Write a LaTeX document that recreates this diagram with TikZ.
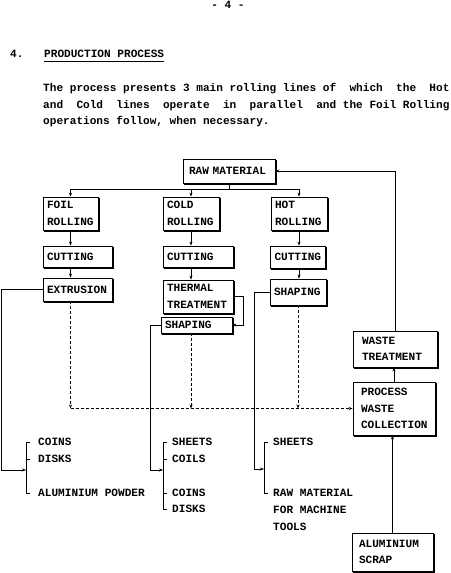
\documentclass[tikz,border=0pt]{standalone}
\usepackage{fontspec}
\setmonofont{Liberation Mono}
\usetikzlibrary{shadows,arrows.meta}
\newcommand\dtf{\fontsize{11.1}{17}\selectfont\ttfamily\bfseries}
\newcommand\dtr{\fontsize{11.1}{16.5}\selectfont\ttfamily\bfseries}
\tikzset{
  box/.style={draw, line width=0.8pt, fill=white, font=\dtf, align=left,
    inner xsep=4pt, inner ysep=0pt,
    copy shadow={shadow xshift=1.3pt, shadow yshift=-1.3pt}},
  lbl/.style={font=\dtf, anchor=west, inner sep=0pt},
  ptxt/.style={font=\dtf, anchor=base west, inner sep=0pt},
  conn/.style={line width=0.8pt},
  arr/.style={conn, -{Stealth[length=4pt,width=3pt]}},
  dsh/.style={line width=0.8pt, dash pattern=on 3pt off 2pt, -{Stealth[length=4pt,width=3pt]}},
}
\begin{document}
\begin{tikzpicture}[x=1pt, y=-1pt]
\useasboundingbox (0,0) rectangle (450,573);
\fill[white] (0,0) rectangle (450,573);

% header and paragraph
\node[font=\dtf, anchor=base, inner sep=0pt] (pg) at (228,8) {- 4 -};
\node[ptxt] (sec) at (10,57.5) {4.};
\node[ptxt] (title) at (44,57.5) {PRODUCTION PROCESS};
\draw[line width=0.6pt] ([yshift=-3pt]title.south west) -- ([yshift=-3pt]title.south east);
\node[ptxt] (p1) at (43,91.5) {The process presents 3 main rolling lines of~ which~ the~ Hot};
\node[ptxt] (p2) at (43,108) {and~ Cold~ lines~ operate~ in~ parallel~ and the Foil Rolling};
\node[ptxt] (p3) at (43,124.5) {operations follow, when necessary.};

% boxes
\node[box, inner xsep=6pt, minimum width=92pt, minimum height=24pt, text width=80pt] (raw) at (229,171) {RAW MATERIAL};
\node[box, minimum width=55pt, minimum height=33pt, text width=47pt] (foil) at (70.5,213.5) {FOIL\\ROLLING};
\node[box, minimum width=56pt, minimum height=33pt, text width=48pt] (cold) at (191,213.5) {COLD\\ROLLING};
\node[box, minimum width=56pt, minimum height=33pt, text width=48pt] (hot) at (299,213.5) {HOT\\ROLLING};
\node[box, minimum width=69pt, minimum height=21pt, text width=61pt] (cut1) at (77.5,256.5) {CUTTING};
\node[box, minimum width=70pt, minimum height=21pt, text width=62pt] (cut2) at (198,256.5) {CUTTING};
\node[box, minimum width=55pt, minimum height=22pt, text width=47pt] (cut3) at (298,257) {CUTTING};
\node[box, minimum width=69pt, minimum height=23pt, text width=61pt] (extr) at (77.5,289.5) {EXTRUSION};
\node[box, minimum width=70pt, minimum height=33pt, text width=62pt] (therm) at (198,296.5) {THERMAL\\TREATMENT};
\node[box, minimum width=71pt, minimum height=16pt, text width=63pt] (shap2) at (196.5,325) {SHAPING};
\node[box, minimum width=56pt, minimum height=26pt, text width=48pt] (shap3) at (298,292) {SHAPING};
\node[box, font=\dtr, inner xsep=9pt, minimum width=84pt, minimum height=36pt, text width=66pt] (wt) at (395,349) {WASTE\\TREATMENT};
\node[box, font=\dtr, inner xsep=8pt, minimum width=82pt, minimum height=53pt, text width=66pt] (pwc) at (394,408.5) {PROCESS\\WASTE\\COLLECTION};
\node[box, font=\dtr, inner xsep=7pt, minimum width=81pt, minimum height=38pt, text width=67pt] (scrap) at (392.5,552) {ALUMINIUM\\SCRAP};

% raw material distribution
\coordinate (bus) at (229,189);
\draw[conn] (raw.south) -- (bus);
\draw[conn] (bus -| foil.north) -- (bus -| hot.north);
\draw[arr] (bus -| foil.north) -- (foil.north);
\draw[arr] (bus -| cold.north) -- (cold.north);
\draw[arr] (bus -| hot.north) -- (hot.north);

% columns
\draw[arr] (foil.south) -- (foil.south |- cut1.north);
\draw[arr] (foil.south |- cut1.south) -- (foil.south |- extr.north);
\draw[arr] (cold.south) -- (cold.south |- cut2.north);
\draw[arr] (cold.south |- cut2.south) -- (cold.south |- therm.north);
\draw[arr] (hot.south) -- (hot.south |- cut3.north);
\draw[arr] (hot.south |- cut3.south) -- (hot.south |- shap3.north);
\draw[arr] (therm.east) -- ++(10,0) |- (shap2.east);

% product outputs
\coordinate (b1) at (26,470);
\coordinate (b2) at (163,470);
\coordinate (b3) at (264,469);
\draw[arr] (extr.west) -- ++(-41,0) |- (b1);
\draw[arr] (shap2.west) -- ++(-10,0) |- (b2);
\draw[arr] (shap3.west) -- ++(-15,0) |- (b3);

\draw[conn] (29.5,442) -- (26,442) -- (26,493) -- (29.5,493);
\draw[conn] (26,459) -- (29.5,459);
\node[lbl] (coins1) at (38,442) {COINS};
\node[lbl] (disks1) at (38,459) {DISKS};
\node[lbl] (powder) at (38,493) {ALUMINIUM POWDER};

\draw[conn] (166.5,442) -- (163,442) -- (163,509) -- (166.5,509);
\draw[conn] (163,459) -- (166.5,459);
\draw[conn] (163,493) -- (166.5,493);
\node[lbl] (sheets2) at (172,442) {SHEETS};
\node[lbl] (coils2) at (172,459) {COILS};
\node[lbl] (coins2) at (172,493) {COINS};
\node[lbl] (disks2) at (172,509) {DISKS};

\draw[conn] (268,442) -- (264,442) -- (264,493) -- (268,493);
\node[lbl] (sheets3) at (273,442) {SHEETS};
\node[lbl] (rawm3) at (273,493) {RAW MATERIAL};
\node[lbl] (mach3) at (273,510) {FOR MACHINE};
\node[lbl] (tools3) at (273,527) {TOOLS};

% waste flows
\coordinate (d1) at (foil.south |- pwc.west);
\draw[dsh] (foil.south |- extr.south) -- (d1);
\draw[dsh] (d1) -- (pwc.west);
\draw[dsh] (cold.south |- shap2.south) -- (cold.south |- pwc.west);
\draw[dsh] (shap3.south) -- (shap3.south |- pwc.west);

\draw[arr] (pwc.north) -- (pwc.north |- wt.south);
\draw[arr] (wt.north) |- (raw.east);
\draw[arr] (scrap.north) -- (scrap.north |- pwc.south);
\end{tikzpicture}
\end{document}
